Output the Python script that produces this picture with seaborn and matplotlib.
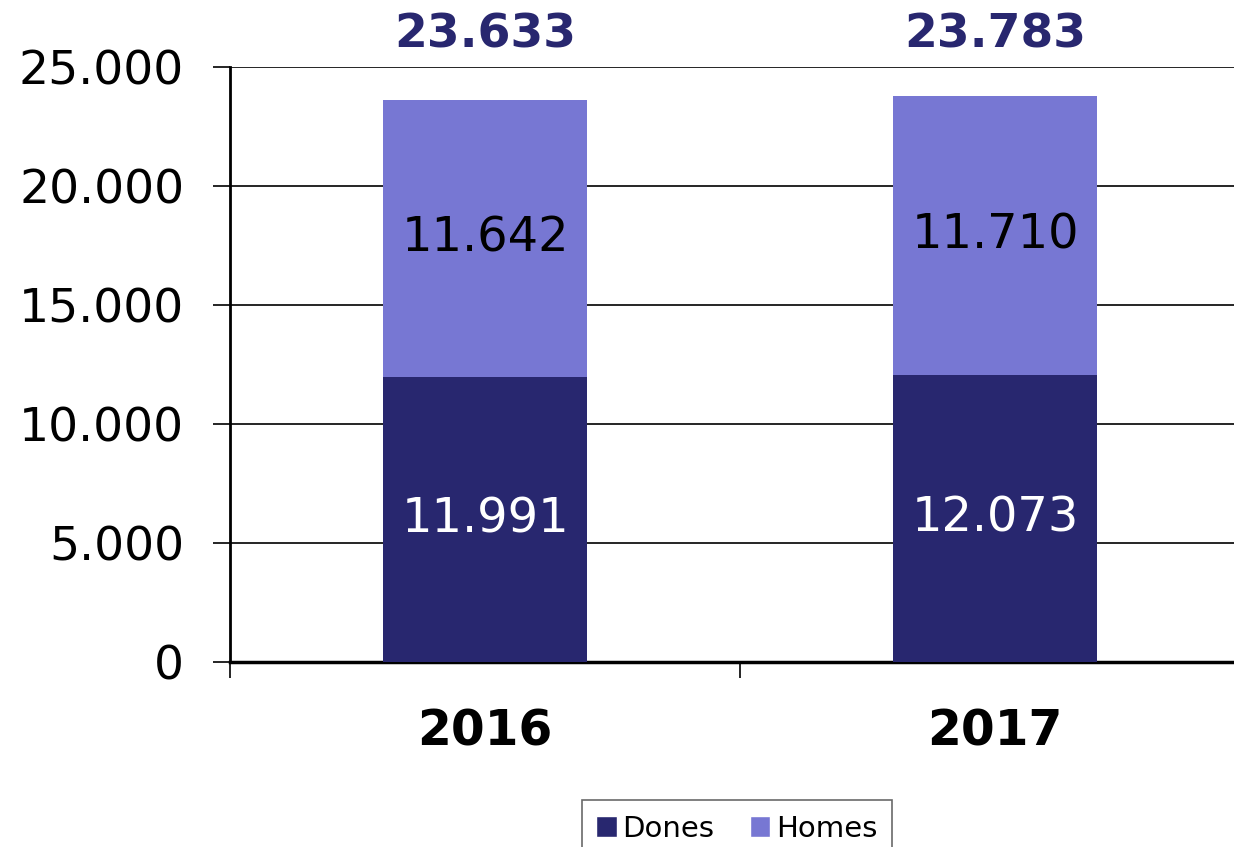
import matplotlib
matplotlib.use("Agg")
import matplotlib.pyplot as plt
import matplotlib.ticker as mticker
import matplotlib.transforms as mtransforms
from matplotlib.patches import Patch
import seaborn as sns
import pandas as pd

# Dades
years = ["2016", "2017"]
dones = [11991, 12073]
homes = [11642, 11710]
totals = [23633, 23783]

col_dones = "#28276F"
col_homes = "#7777D3"

sns.set_style("white")
plt.rcParams['font.family'] = ['DejaVu Sans']
plt.rcParams['text.color'] = "black"
plt.rcParams['xtick.color'] = "black"
plt.rcParams['ytick.color'] = "black"


def fmt(v):
    return f"{int(v):,}".replace(",", ".")


df = pd.DataFrame({"Any": years, "Dones": dones, "Homes": homes, "Total": totals})

fig = plt.figure(figsize=(12.34, 8.47), dpi=100)
ax = fig.add_axes([0.1864, 0.2184, 0.8136, 0.7025])

# barres apilades: total (homes a dalt) i dones a sota
sns.barplot(data=df, x="Any", y="Total", color=col_homes, width=0.4,
            saturation=1, ax=ax, zorder=3, linewidth=0, edgecolor="none")
sns.barplot(data=df, x="Any", y="Dones", color=col_dones, width=0.4,
            saturation=1, ax=ax, zorder=3, linewidth=0, edgecolor="none")

ax.yaxis.set_major_locator(mticker.MultipleLocator(5000))
ax.yaxis.set_major_formatter(mticker.FuncFormatter(lambda v, p: fmt(v)))
ax.grid(axis="y", color="black", linewidth=1.2, zorder=0)
ax.set_axisbelow(True)

for s in ["top", "right"]:
    ax.spines[s].set_visible(False)
ax.spines["left"].set_linewidth(2)
ax.spines["bottom"].set_linewidth(2.5)
ax.spines["left"].set_color("black")
ax.spines["bottom"].set_color("black")

ax.tick_params(axis="y", length=12, width=1.2, pad=21, labelsize=34, left=True)
ax.set_xticks([-0.5, 0.5, 1.5], minor=True)
ax.tick_params(axis="x", which="minor", length=11.5, width=1.2, bottom=True)
ax.tick_params(axis="x", which="major", length=0, pad=33, labelsize=35)
for t in ax.get_xticklabels():
    t.set_fontweight("bold")
ax.set_xlabel("")
ax.set_ylabel("")
ax.set_ylim(0, 25000)
ax.set_xlim(-0.5, 1.4686)

# etiquetes
trans = mtransforms.blended_transform_factory(ax.transData, ax.transAxes)
for i in range(len(years)):
    ax.text(i, dones[i] / 2, fmt(dones[i]), ha="center", va="center",
            color="white", fontsize=34.5, zorder=5)
    ax.text(i, dones[i] + homes[i] / 2, fmt(homes[i]), ha="center",
            va="center", color="black", fontsize=34.5, zorder=5)
    ax.text(i, 1.054, fmt(totals[i]), ha="center", va="center", transform=trans,
            color=col_dones, fontsize=34, fontweight="bold", zorder=5, clip_on=False)

handles = [Patch(facecolor=col_dones, label="Dones"), Patch(facecolor=col_homes, label="Homes")]
leg = fig.legend(handles=handles, loc="upper center", bbox_to_anchor=(0.597, 0.0555), ncol=2,
                 fontsize=21, frameon=True, fancybox=False, edgecolor="#444444",
                 handlelength=0.7, handleheight=0.7, handletextpad=0.2, columnspacing=1.2,
                 borderpad=0.5, borderaxespad=0)
leg.get_frame().set_linewidth(1.2)

fig.savefig("out.png", dpi=100)
